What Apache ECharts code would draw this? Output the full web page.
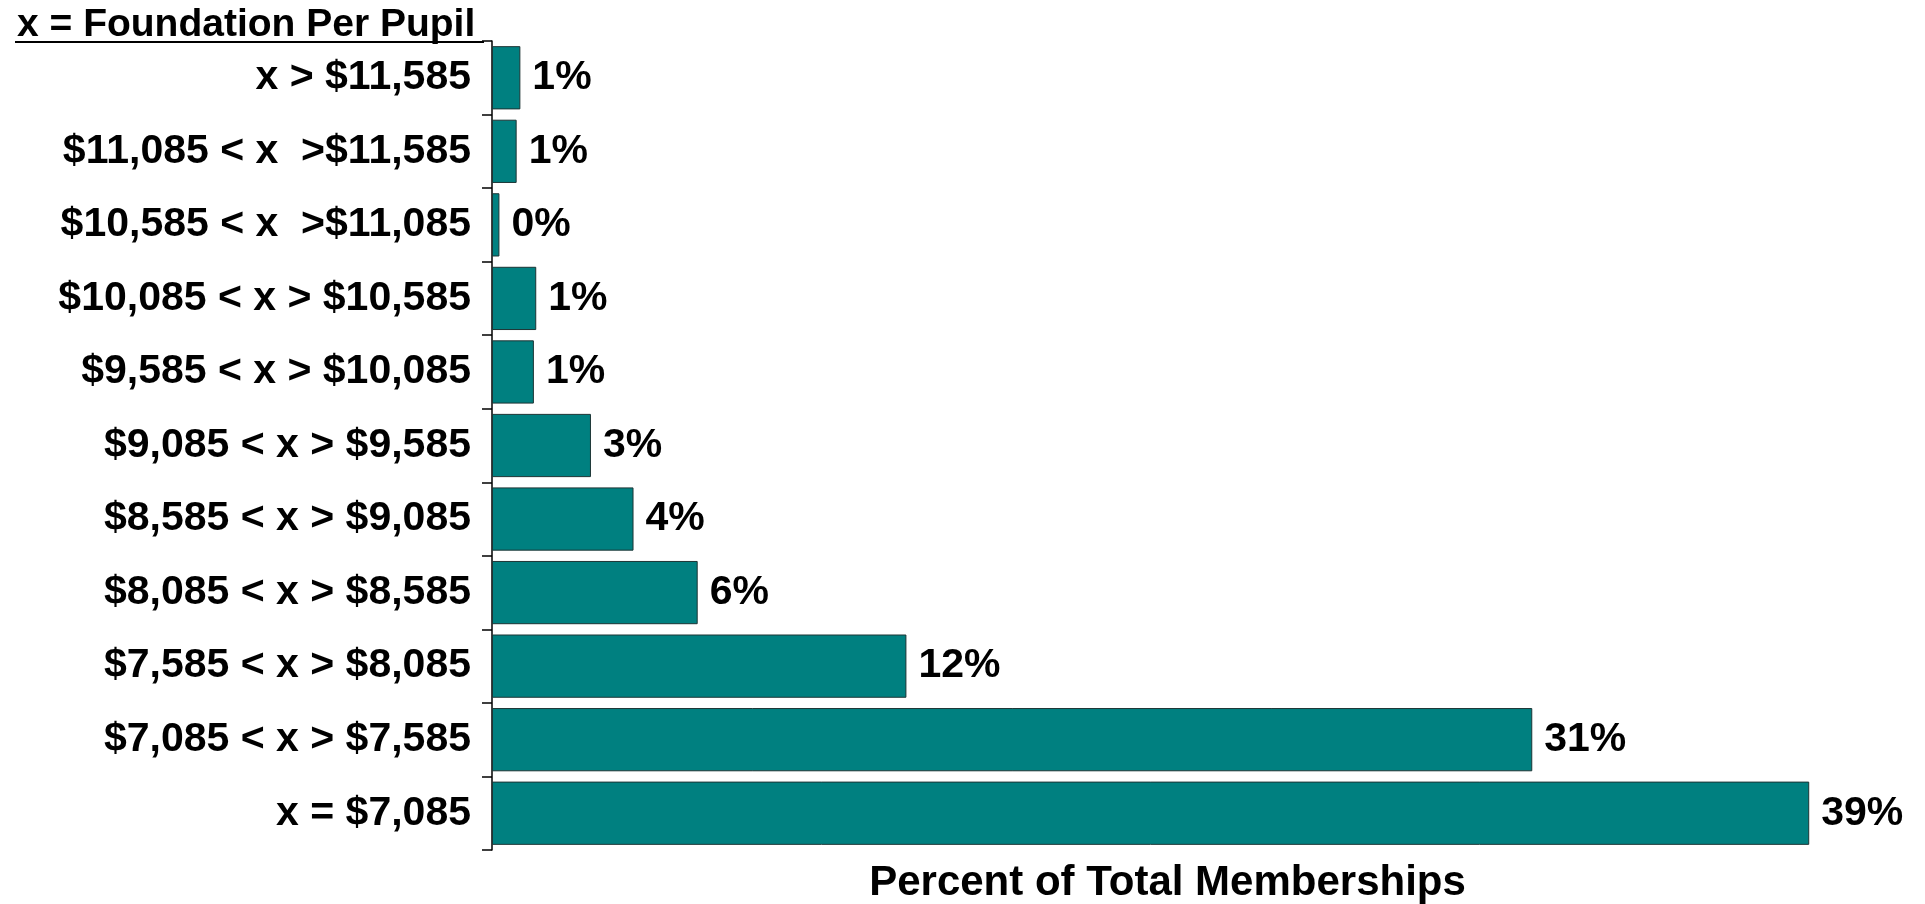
<!DOCTYPE html>
<html>
<head>
<meta charset="utf-8">
<script src="https://cdn.jsdelivr.net/npm/echarts@6/dist/echarts.min.js"></script>
<style>
  html, body { margin: 0; padding: 0; background: #ffffff; overflow: hidden; }
  #chart { width: 1925px; height: 904px; }
</style>
</head>
<body>
<div id="chart"></div>
<script>
// Categories, top to bottom
var categories = [
  "x > $11,585",
  "$11,085 < x  >$11,585",
  "$10,585 < x  >$11,085",
  "$10,085 < x > $10,585",
  "$9,585 < x > $10,085",
  "$9,085 < x > $9,585",
  "$8,585 < x > $9,085",
  "$8,085 < x > $8,585",
  "$7,585 < x > $8,085",
  "$7,085 < x > $7,585",
  "x = $7,085"
];
// Percent of total memberships
var percents = [0.84, 0.73, 0.22, 1.31, 1.24, 2.93, 4.19, 6.09, 12.27, 30.8, 39.0];

var titleText = "x = Foundation Per Pupil";
var xAxisName = "Percent of Total Memberships";

var FONT = 'Arial, "Liberation Sans", sans-serif';

var chart = echarts.init(document.getElementById('chart'), null, { renderer: 'canvas' });
chart.setOption({
  backgroundColor: '#ffffff',
  animation: false,
  title: {
    text: titleText,
    left: 12,
    top: 1,
    textStyle: { fontFamily: FONT, fontWeight: 'bold', fontSize: 39, color: '#000' }
  },
  graphic: [{
    type: 'line',
    shape: { x1: 15, y1: 42, x2: 484, y2: 42 },
    style: { stroke: '#000', lineWidth: 2 }
  }],
  grid: { left: 492, right: 82, top: 41, bottom: 54, containLabel: false, outerBoundsMode: 'none' },
  xAxis: {
    type: 'value',
    min: 0,
    max: 40,
    name: xAxisName,
    nameLocation: 'middle',
    nameGap: 12,
    nameTextStyle: { fontFamily: FONT, fontWeight: 'bold', fontSize: 42, color: '#000' },
    axisLine: { show: false },
    axisTick: { show: false },
    axisLabel: { show: false },
    splitLine: { show: false }
  },
  yAxis: {
    type: 'category',
    data: categories,
    inverse: true,
    axisLine: { show: true, lineStyle: { color: '#000', width: 1.5 } },
    axisTick: { show: true, length: 10, inside: false, lineStyle: { color: '#000', width: 1.5 } },
    axisLabel: {
      margin: 21,
      fontFamily: FONT,
      fontWeight: 'bold',
      fontSize: 41,
      color: '#000'
    },
    splitLine: { show: false }
  },
  series: [{
    type: 'bar',
    data: percents,
    barCategoryGap: '14%',
    itemStyle: { color: '#008080', borderColor: '#1c3434', borderWidth: 1 },
    label: {
      show: true,
      position: 'right',
      distance: 12,
      fontFamily: FONT,
      fontWeight: 'bold',
      fontSize: 41,
      color: '#000',
      formatter: function (p) { return Math.round(p.value) + '%'; }
    }
  }]
});
</script>
</body>
</html>
